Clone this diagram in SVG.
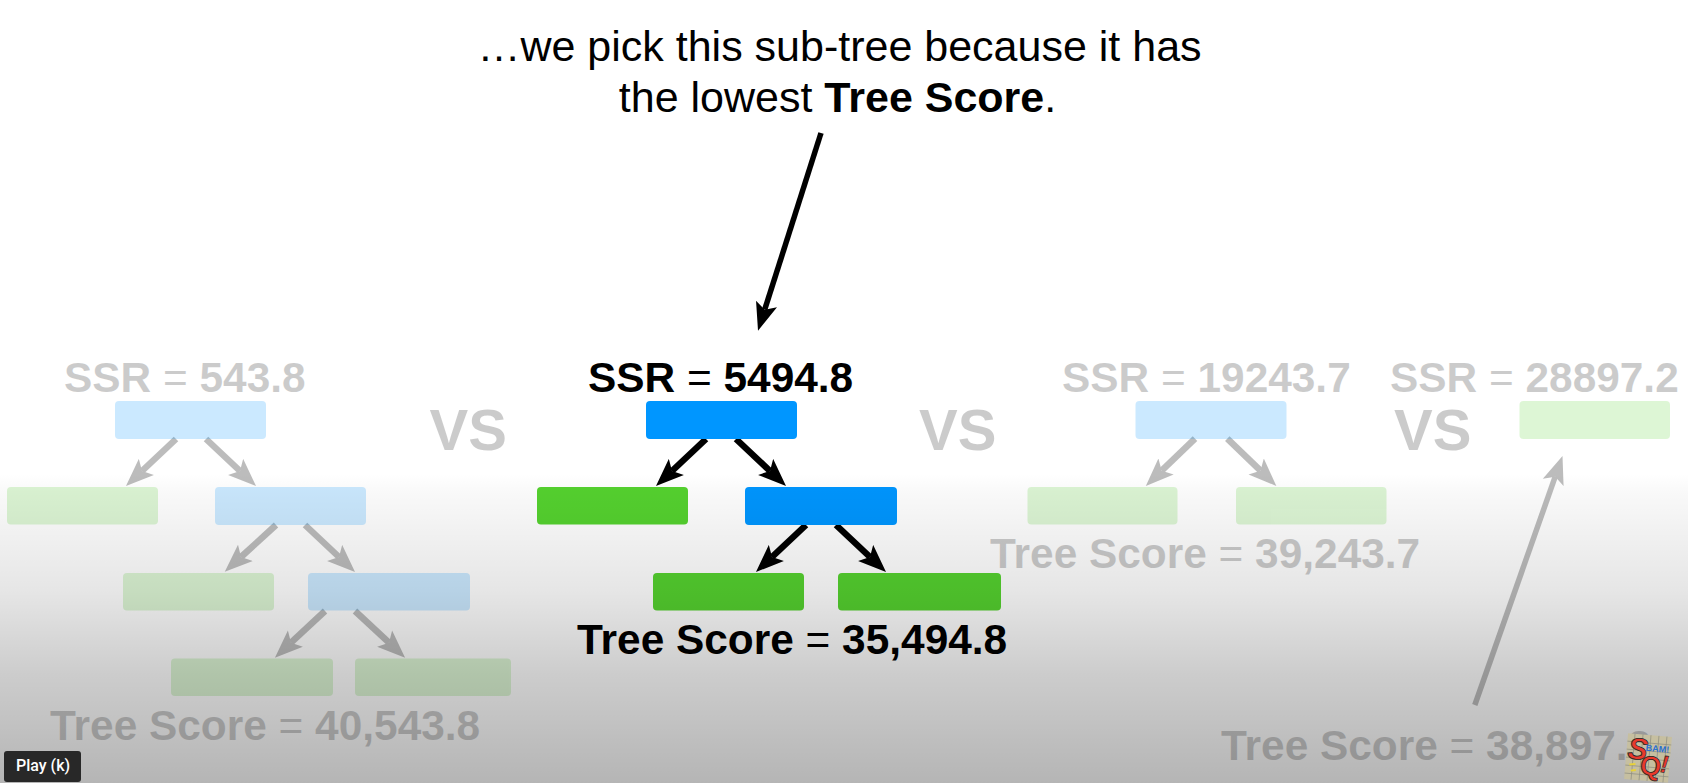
<svg xmlns="http://www.w3.org/2000/svg" width="1688" height="783" viewBox="0 0 1688 783">
<style>
text{font-family:"Liberation Sans",Arial,sans-serif}
.lab{font-size:42.4px;font-weight:700}
.lab tspan{font-weight:400}
.dimt{fill:#000;opacity:.2}
.vs{font-size:58px;font-weight:700;fill:#000;opacity:.2}
.top{font-size:43px;fill:#000;text-anchor:middle}
.top tspan{font-weight:700}
.b{fill:#0096ff}.g{fill:#55d22f}
.dim{opacity:.2}
.a{stroke:#000;stroke-width:6.5;fill:none;marker-end:url(#ah)}
.ad{opacity:.26}
.thin{stroke-width:5.5}
</style>
<defs>
<marker id="ah" markerUnits="userSpaceOnUse" markerWidth="29" markerHeight="24" viewBox="0 0 29 24" refX="6" refY="12" orient="auto">
<path d="M28,12 L0,1 L6,12 L0,23 Z" fill="#000"/>
</marker>
<linearGradient id="shade" x1="0" y1="0" x2="0" y2="1">
<stop offset="0" stop-color="#000" stop-opacity="0"/>
<stop offset=".06" stop-color="#000" stop-opacity=".025"/>
<stop offset=".38" stop-color="#000" stop-opacity=".1"/>
<stop offset=".65" stop-color="#000" stop-opacity=".2"/>
<stop offset="1" stop-color="#000" stop-opacity=".29"/>
</linearGradient>
</defs>
<rect id="background" width="1688" height="783" fill="#fff"/>
<g id="caption">
<text class="top" x="839.5" y="61">…we pick this sub-tree because it has</text>
<text class="top" x="837.5" y="112">the lowest <tspan>Tree Score</tspan>.</text>
</g>
<g id="connectors">
<line class="a thin" x1="821" y1="133" x2="764.7" y2="309.7"/>
<g class="ad">
<line class="a" x1="176" y1="439" x2="142" y2="471"/>
<line class="a" x1="206" y1="439" x2="240" y2="471"/>
<line class="a" x1="276" y1="525" x2="241" y2="557"/>
<line class="a" x1="305" y1="525" x2="339" y2="557"/>
<line class="a" x1="325" y1="611" x2="291" y2="642.7"/>
<line class="a" x1="355" y1="611" x2="389" y2="642.7"/>
<line class="a" x1="1195" y1="438.7" x2="1161.7" y2="470.7"/>
<line class="a" x1="1227.3" y1="438.7" x2="1260.5" y2="470.7"/>
<line class="a thin" x1="1474.8" y1="705" x2="1555.2" y2="476.7"/>
</g>
<line class="a" x1="706" y1="439" x2="672" y2="471"/>
<line class="a" x1="736" y1="439" x2="770" y2="471"/>
<line class="a" x1="806" y1="525" x2="772" y2="557"/>
<line class="a" x1="836" y1="525" x2="870" y2="557"/>
</g>
<g id="tree-1" class="dim">
<rect id="t1-root" class="b" x="115" y="401" width="151" height="38" rx="4"/>
<rect id="t1-leaf1" class="g" x="7" y="487" width="151" height="37.5" rx="4"/>
<rect id="t1-n2" class="b" x="215" y="487" width="151" height="38" rx="4"/>
<rect id="t1-leaf2" class="g" x="123" y="573" width="151" height="37.5" rx="4"/>
<rect id="t1-n3" class="b" x="308" y="573" width="162" height="37.5" rx="4"/>
<rect id="t1-leaf3" class="g" x="171" y="658.5" width="162" height="37.5" rx="4"/>
<rect id="t1-leaf4" class="g" x="355" y="658.5" width="156" height="37.5" rx="4"/>
</g>
<g id="tree-2">
<rect id="t2-root" class="b" x="646" y="401" width="151" height="38" rx="4"/>
<rect id="t2-leaf1" class="g" x="537" y="487" width="151" height="37.5" rx="4"/>
<rect id="t2-n2" class="b" x="745" y="487" width="152" height="38" rx="4"/>
<rect id="t2-leaf2" class="g" x="653" y="573" width="151" height="37.5" rx="4"/>
<rect id="t2-leaf3" class="g" x="838" y="573" width="163" height="37.5" rx="4"/>
</g>
<g id="tree-3" class="dim">
<rect id="t3-root" class="b" x="1135.5" y="401" width="151" height="38" rx="4"/>
<rect id="t3-leaf1" class="g" x="1027.5" y="487" width="150" height="37.5" rx="4"/>
<rect id="t3-leaf2" class="g" x="1236" y="487" width="150.5" height="37.5" rx="4"/>
</g>
<g id="tree-4" class="dim">
<rect id="t4-root" class="g" x="1519.5" y="401" width="150.5" height="38" rx="4"/>
</g>
<g id="labels">
<text class="lab dimt" x="64" y="392">SSR <tspan>=</tspan> 543.8</text>
<text class="lab" x="588" y="392">SSR <tspan>=</tspan> 5494.8</text>
<text class="lab dimt" x="1062" y="392">SSR <tspan>=</tspan> 19243.7</text>
<text class="lab dimt" x="1390" y="392">SSR <tspan>=</tspan> 28897.2</text>
<text class="vs" x="429.5" y="450">VS</text>
<text class="vs" x="919" y="450">VS</text>
<text class="vs" x="1394" y="450">VS</text>
<text class="lab dimt" x="50" y="740">Tree Score <tspan>=</tspan> 40,543.8</text>
<text class="lab" x="577" y="654">Tree Score <tspan>=</tspan> 35,494.8</text>
<text class="lab dimt" x="990" y="568">Tree Score <tspan>=</tspan> 39,243.7</text>
<text class="lab dimt" x="1221" y="760">Tree Score <tspan>=</tspan> 38,897.2</text>
</g>
<rect id="shade-overlay" x="0" y="474" width="1688" height="309" fill="url(#shade)"/>
<g id="logo" transform="rotate(5 1648 758)">
<rect x="1626" y="735" width="44" height="46" fill="#c6bfa0"/>
<path d="M1633 735v46M1641 735v46M1649 735v46M1657 735v46M1665 735v46M1626 743h44M1626 751h44M1626 759h44M1626 767h44M1626 775h44" stroke="#8c8c80" stroke-width=".7" fill="none"/>
<path d="M1630 766l6-1M1632 772l5-1" stroke="#e8d23a" stroke-width="2" fill="none"/>
<text x="1627" y="760" font-size="30" font-weight="700" font-style="italic" fill="#e8392c" stroke="#222" stroke-width=".8">S</text>
<text x="1641" y="775" font-size="27" font-weight="700" fill="#e8392c" stroke="#222" stroke-width=".8">Q</text>
<text x="1661" y="771" font-size="24" font-weight="700" font-style="italic" fill="#e8392c" stroke="#222" stroke-width=".6">!</text>
<text x="1645" y="751" font-size="9" font-weight="700" fill="#2a6fd0">BAM!</text>
</g>
<g id="play-button">
<rect x="4" y="751" width="77" height="31" rx="3" fill="#282828"/>
<text x="16" y="771" font-size="16" font-weight="500" fill="#fff" style="font-family:Roboto,sans-serif">Play (k)</text>
</g>
</svg>
